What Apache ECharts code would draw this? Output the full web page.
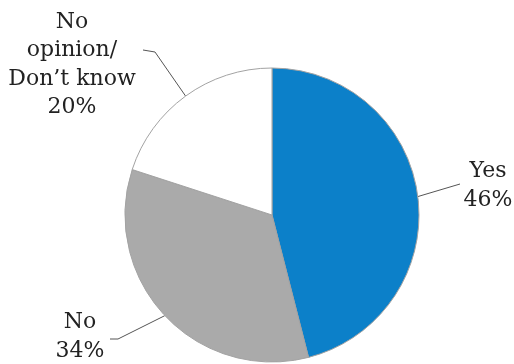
<!DOCTYPE html>
<html>
<head>
<meta charset="utf-8">
<script src="https://cdn.jsdelivr.net/npm/echarts@6/dist/echarts.min.js"></script>
<style>
  html, body { margin: 0; padding: 0; background: #fff; }
  #chart { width: 514px; height: 364px; }
</style>
</head>
<body>
<div id="chart"></div>
<script>
// Survey answers, clockwise from 12 o'clock
var categories = ['Yes', 'No', 'No\nopinion/\nDon\u2019t know'];
var shares = [46, 34, 20];
var sliceColors = ['#0c80c9', '#aaaaaa', '#ffffff'];

// Where each label block sits, and how its leader line bends before it
var labelPlacement = [
  { x: 488, y: 186, bend: [460, 184], end: [460, 184] },
  { x: 80,  y: 337, bend: [118, 339], end: [110, 339] },
  { x: 72,  y: 65,  bend: [155, 52],  end: [143, 50] }
];

var chart = echarts.init(document.getElementById('chart'), null, { renderer: 'canvas' });

chart.setOption({
  backgroundColor: '#ffffff',
  animation: false,
  series: [{
    type: 'pie',
    center: [272, 215],
    radius: 147,
    startAngle: 90,
    clockwise: true,
    avoidLabelOverlap: false,
    itemStyle: { borderColor: '#a3a3a3', borderWidth: 1 },
    label: {
      show: true,
      position: 'outside',
      formatter: '{b}\n{c}%',
      fontFamily: 'DejaVu Serif',
      fontSize: 22,
      lineHeight: 28.5,
      color: '#222222',
      align: 'center'
    },
    labelLine: {
      show: true,
      length: 30,
      length2: 10,
      lineStyle: { color: '#555555', width: 1 }
    },
    labelLayout: function (params) {
      var p = labelPlacement[params.dataIndex];
      var pts = params.labelLinePoints;
      var start = pts ? pts[0] : null;
      var out = { x: p.x, y: p.y, align: 'center', verticalAlign: 'middle' };
      if (start) {
        out.labelLinePoints = [[start[0], start[1]], p.bend, p.end];
      }
      return out;
    },
    data: categories.map(function (name, i) {
      return { name: name, value: shares[i], itemStyle: { color: sliceColors[i] } };
    })
  }]
});
</script>
</body>
</html>
